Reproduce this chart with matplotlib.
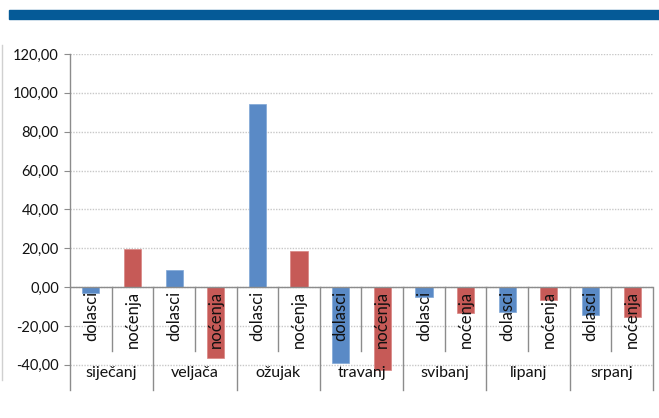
import matplotlib.pyplot as plt
from matplotlib.patches import Rectangle
from matplotlib.lines import Line2D

plt.rcParams['font.family'] = ['Lato', 'DejaVu Sans']

months = ['siječanj', 'veljača', 'ožujak', 'travanj', 'svibanj', 'lipanj', 'srpanj']
series = ['dolasci', 'noćenja']
dolasci = [-3.1, 9.0, 94.4, -38.9, -5.3, -13.0, -14.4]
nocenja = [19.4, -36.5, 18.5, -42.8, -13.3, -6.6, -15.2]
y_ticks = [-40, -20, 0, 20, 40, 60, 80, 100, 120]

blue = '#5A8AC6'
red = '#C65A57'
grey = '#8C8C8C'

fig = plt.figure(figsize=(6.59, 4.18), dpi=100)
ax = fig.add_axes([70 / 659, 28 / 418, 583 / 659, 336 / 418])

ymin, ymax = -53, 120
ax.set_xlim(-0.5, 2 * len(months) - 0.5)
ax.set_ylim(ymin, ymax)

# Grid (dotted) behind bars
for v in y_ticks:
    ax.axhline(v, color='#C8C8C8', lw=1.0, ls=(0, (1, 1)), zorder=0)

# Bars
xd = [2 * i for i in range(len(months))]
xn = [2 * i + 1 for i in range(len(months))]
ax.bar(xd, dolasci, width=0.41, color=blue, edgecolor='#7FA6D6', lw=0.5, zorder=2)
ax.bar(xn, nocenja, width=0.41, color=red, edgecolor='#D98583', lw=0.5, zorder=2)

# Category axis at zero
ax.axhline(0, color=grey, lw=1.0, zorder=3)

for i, m in enumerate(months):
    # inner separator
    ax.plot([2 * i + 0.5, 2 * i + 0.5], [0, -32.7], color=grey, lw=1.0, zorder=3)
    # month separator (right side of group)
    ax.plot([2 * i + 1.5, 2 * i + 1.5], [0, ymin], color=grey, lw=1.0, zorder=3,
            clip_on=False)
    for j, s in enumerate(series):
        ax.text(2 * i + j, -1.8, s, rotation=90, ha='center', va='top',
                fontsize=12, color='#111111', zorder=4)
    ax.text(2 * i + 0.5, -44.4, m, ha='center', va='center', fontsize=11.5,
            color='#111111', zorder=4)

# Value axis
for side in ['top', 'right', 'bottom']:
    ax.spines[side].set_visible(False)
ax.spines['left'].set_color(grey)
ax.spines['left'].set_linewidth(1.0)
ax.set_xticks([])
ax.set_yticks(y_ticks)
ax.set_yticklabels([f'{v:.2f}'.replace('.', ',') for v in y_ticks])
ax.tick_params(axis='y', direction='out', length=4, color=grey, labelsize=10.5,
               labelcolor='#111111', pad=4)

# Header band and chart border
fig.patches.append(Rectangle((9 / 659, 1 - 19 / 418), 650 / 659, 9 / 418,
                             transform=fig.transFigure, color='#055A97', zorder=5))
fig.lines.append(Line2D([1.5 / 659, 1.5 / 659], [1 - 45 / 418, 1 - 380 / 418],
                        transform=fig.transFigure, color='#D0D0D0', lw=1.0))

fig.savefig('out.png', dpi=100)
